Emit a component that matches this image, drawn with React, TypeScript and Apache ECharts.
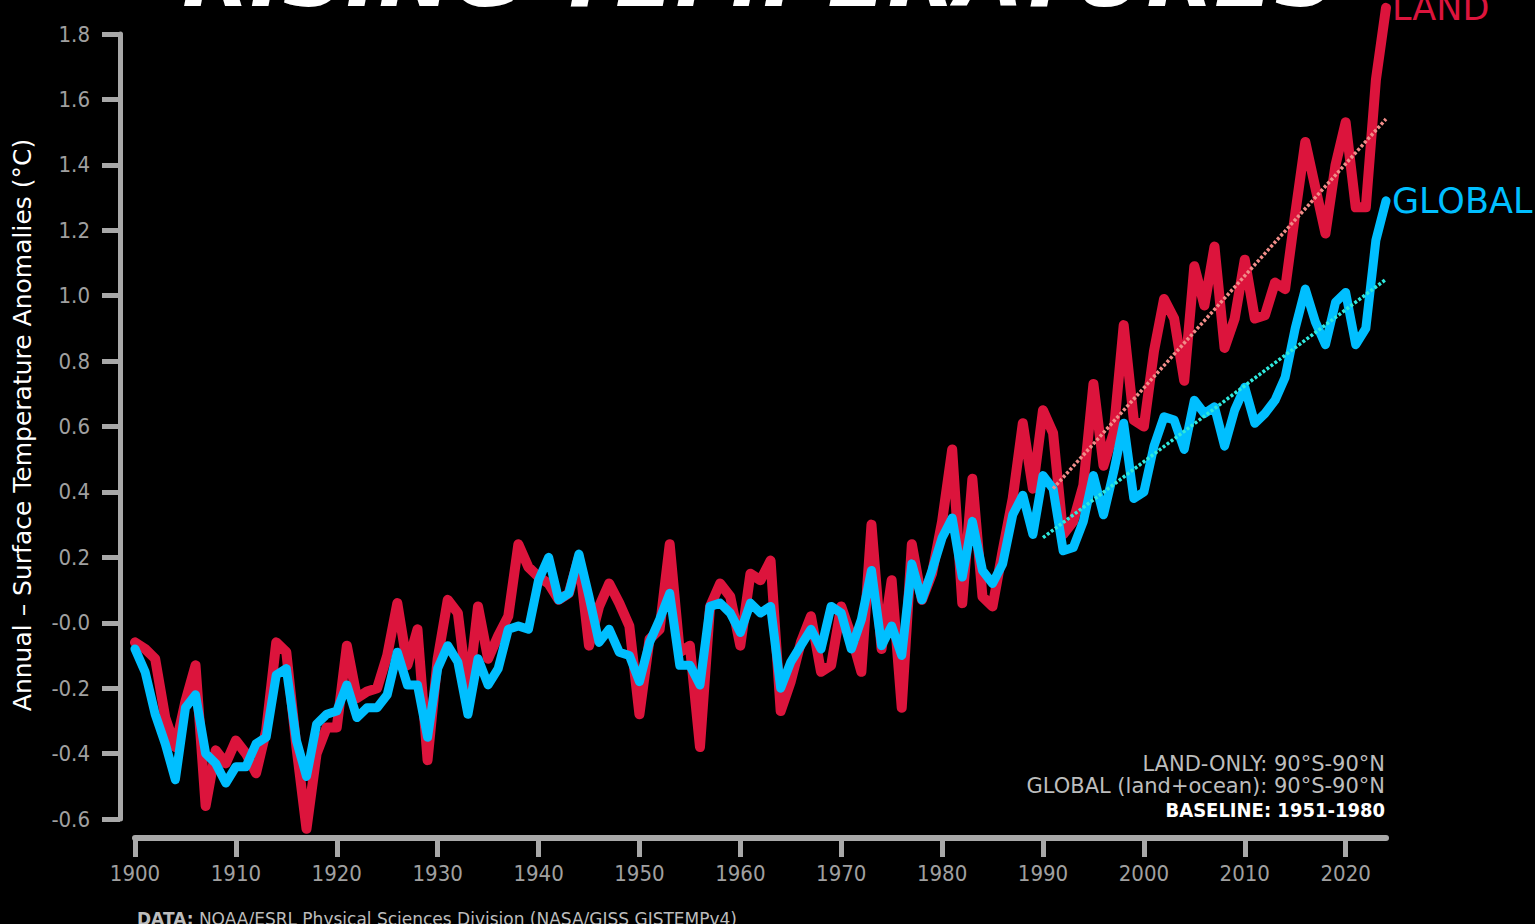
import React, { useEffect, useRef } from "react";
import * as echarts from "echarts";

const years = [
  1900, 1901, 1902, 1903, 1904, 1905, 1906, 1907, 1908, 1909,
  1910, 1911, 1912, 1913, 1914, 1915, 1916, 1917, 1918, 1919,
  1920, 1921, 1922, 1923, 1924, 1925, 1926, 1927, 1928, 1929,
  1930, 1931, 1932, 1933, 1934, 1935, 1936, 1937, 1938, 1939,
  1940, 1941, 1942, 1943, 1944, 1945, 1946, 1947, 1948, 1949,
  1950, 1951, 1952, 1953, 1954, 1955, 1956, 1957, 1958, 1959,
  1960, 1961, 1962, 1963, 1964, 1965, 1966, 1967, 1968, 1969,
  1970, 1971, 1972, 1973, 1974, 1975, 1976, 1977, 1978, 1979,
  1980, 1981, 1982, 1983, 1984, 1985, 1986, 1987, 1988, 1989,
  1990, 1991, 1992, 1993, 1994, 1995, 1996, 1997, 1998, 1999,
  2000, 2001, 2002, 2003, 2004, 2005, 2006, 2007, 2008, 2009,
  2010, 2011, 2012, 2013, 2014, 2015, 2016, 2017, 2018, 2019,
  2020, 2021, 2022, 2023, 2024,
];

const landAnomaly = [
  -0.06, -0.08, -0.11, -0.29, -0.38, -0.24, -0.13, -0.56, -0.39, -0.43,
  -0.36, -0.40, -0.46, -0.33, -0.06, -0.09, -0.38, -0.63, -0.40, -0.32,
  -0.32, -0.07, -0.23, -0.21, -0.20, -0.10, 0.06, -0.13, -0.02, -0.42,
  -0.11, 0.07, 0.03, -0.22, 0.05, -0.11, -0.04, 0.02, 0.24, 0.17,
  0.14, 0.12, 0.07, 0.09, 0.20, -0.07, 0.05, 0.12, 0.06, -0.01,
  -0.28, -0.05, -0.02, 0.24, -0.09, -0.07, -0.38, 0.05, 0.12, 0.08,
  -0.07, 0.15, 0.13, 0.19, -0.27, -0.18, -0.06, 0.02, -0.15, -0.13,
  0.05, -0.04, -0.15, 0.30, -0.08, 0.13, -0.26, 0.24, 0.07, 0.15,
  0.31, 0.53, 0.06, 0.44, 0.08, 0.05, 0.22, 0.38, 0.61, 0.41,
  0.65, 0.58, 0.27, 0.31, 0.42, 0.73, 0.48, 0.58, 0.91, 0.62,
  0.60, 0.83, 0.99, 0.93, 0.74, 1.09, 0.97, 1.15, 0.84, 0.93,
  1.11, 0.93, 0.94, 1.04, 1.02, 1.25, 1.47, 1.33, 1.19, 1.40,
  1.53, 1.27, 1.27, 1.66, 1.88,
];

const globalAnomaly = [
  -0.08, -0.15, -0.28, -0.37, -0.48, -0.26, -0.22, -0.40, -0.43, -0.49,
  -0.44, -0.44, -0.37, -0.35, -0.16, -0.14, -0.36, -0.47, -0.31, -0.28,
  -0.27, -0.19, -0.29, -0.26, -0.26, -0.22, -0.09, -0.19, -0.19, -0.35,
  -0.14, -0.07, -0.12, -0.28, -0.11, -0.19, -0.14, -0.02, -0.01, -0.02,
  0.13, 0.20, 0.07, 0.09, 0.21, 0.08, -0.06, -0.02, -0.09, -0.10,
  -0.18, -0.06, 0.01, 0.09, -0.13, -0.13, -0.19, 0.05, 0.06, 0.03,
  -0.03, 0.06, 0.03, 0.05, -0.20, -0.12, -0.07, -0.02, -0.08, 0.05,
  0.03, -0.08, 0.01, 0.16, -0.07, -0.01, -0.10, 0.18, 0.07, 0.16,
  0.26, 0.32, 0.14, 0.31, 0.16, 0.12, 0.18, 0.33, 0.39, 0.27,
  0.45, 0.41, 0.22, 0.23, 0.31, 0.45, 0.33, 0.46, 0.61, 0.38,
  0.40, 0.54, 0.63, 0.62, 0.53, 0.68, 0.64, 0.66, 0.54, 0.65,
  0.72, 0.61, 0.64, 0.68, 0.75, 0.90, 1.02, 0.92, 0.85, 0.98,
  1.01, 0.85, 0.90, 1.17, 1.29,
];

const landTrend = [
  [1991, 0.41],
  [2024, 1.54],
];
const globalTrend = [
  [1990, 0.26],
  [2024, 1.05],
];

const xTickYears = [1900, 1910, 1920, 1930, 1940, 1950, 1960, 1970, 1980, 1990, 2000, 2010, 2020];
const yTickValues = [-0.6, -0.4, -0.2, 0, 0.2, 0.4, 0.6, 0.8, 1.0, 1.2, 1.4, 1.6, 1.8];
const yTickLabels = ["-0.6", "-0.4", "-0.2", "-0.0", "0.2", "0.4", "0.6", "0.8", "1.0", "1.2", "1.4", "1.6", "1.8"];

const TITLE = "RISING TEMPERATURES";
const Y_NAME = "Annual \u2013 Surface Temperature Anomalies (\u00B0C)";
const NOTE_LAND = "LAND-ONLY: 90\u00B0S-90\u00B0N";
const NOTE_GLOBAL = "GLOBAL (land+ocean): 90\u00B0S-90\u00B0N";
const NOTE_BASE = "BASELINE: 1951-1980";
const SOURCE_BOLD = "DATA:";
const SOURCE_TEXT = " NOAA/ESRL Physical Sciences Division (NASA/GISS GISTEMPv4)";

const RED = "#dc143c";
const BLUE = "#00bfff";
const AXIS = "#a8a8a8";
const TICKFONT = '"DejaVu Sans Condensed", "DejaVu Sans", sans-serif';
const FONT = '"DejaVu Sans", sans-serif';

export default function App() {
  const ref = useRef<HTMLDivElement>(null);

  useEffect(() => {
    document.body.style.margin = "0";
    document.body.style.background = "#000";
    if (!ref.current) return;
    const chart = echarts.init(ref.current, null, { renderer: "svg" });

    const landData = years.map((y, i) => [y, landAnomaly[i]]);
    const globalData = years.map((y, i) => [y, globalAnomaly[i]]);

    chart.setOption({
      animation: false,
      backgroundColor: "#000",
      grid: { left: 135, right: 149, top: 34, bottom: 105 },
      xAxis: {
        type: "value",
        min: 1900,
        max: 2024,
        offset: 19,
        splitLine: { show: false },
        axisLine: { show: true, onZero: false, lineStyle: { color: AXIS, width: 6 } },
        axisTick: {
          show: true,
          length: 19,
          customValues: xTickYears,
          lineStyle: { color: AXIS, width: 5 },
        },
        axisLabel: {
          customValues: xTickYears,
          color: "#a0a0a0",
          fontSize: 22,
          fontFamily: TICKFONT,
          margin: 24,
          formatter: (v: number) => String(v),
        },
      },
      yAxis: {
        type: "value",
        min: -0.6,
        max: 1.8,
        interval: 0.2,
        offset: 15,
        splitLine: { show: false },
        axisLine: { show: true, lineStyle: { color: AXIS, width: 5 } },
        axisTick: { show: true, length: 18, lineStyle: { color: AXIS, width: 5 } },
        axisLabel: {
          color: "#a0a0a0",
          fontSize: 22,
          fontFamily: TICKFONT,
          margin: 30,
          formatter: (v: number) => {
            let best = 0;
            for (let i = 0; i < yTickValues.length; i++) {
              if (Math.abs(yTickValues[i] - v) < Math.abs(yTickValues[best] - v)) best = i;
            }
            return yTickLabels[best];
          },
        },
      },
      series: [
        {
          name: "LAND",
          type: "line",
          data: landData,
          showSymbol: false,
          clip: false,
          silent: true,
          z: 2,
          lineStyle: { color: RED, width: 10, join: "round", cap: "round" },
          endLabel: {
            show: true,
            formatter: "LAND",
            color: RED,
            fontSize: 35,
            fontFamily: FONT,
            distance: 6,
          },
        },
        {
          name: "GLOBAL",
          type: "line",
          data: globalData,
          showSymbol: false,
          clip: false,
          silent: true,
          z: 3,
          lineStyle: { color: BLUE, width: 9, join: "round", cap: "round" },
          endLabel: {
            show: true,
            formatter: "GLOBAL",
            color: BLUE,
            fontSize: 35,
            fontFamily: FONT,
            distance: 6,
          },
        },
        {
          name: "LAND trend",
          type: "line",
          data: landTrend,
          showSymbol: false,
          silent: true,
          z: 4,
          lineStyle: { color: "#f08c88", width: 3.5, type: [3, 2] },
        },
        {
          name: "GLOBAL trend",
          type: "line",
          data: globalTrend,
          showSymbol: false,
          silent: true,
          z: 4,
          lineStyle: { color: "#2ee8dc", width: 3.5, type: [3, 2] },
        },
      ],
      graphic: [
        {
          type: "text",
          x: 760,
          y: -25,
          silent: true,
          style: {
            text: TITLE,
            fill: "#fff",
            fontSize: 88,
            fontWeight: "bold",
            fontStyle: "italic",
            fontFamily: FONT,
            align: "center",
            verticalAlign: "middle",
          },
        },
        {
          type: "text",
          x: 22,
          y: 425,
          rotation: Math.PI / 2,
          silent: true,
          style: {
            text: Y_NAME,
            fill: "#fff",
            fontSize: 25,
            fontFamily: FONT,
            align: "center",
            verticalAlign: "middle",
          },
        },
        {
          type: "text",
          x: 1385,
          y: 764,
          silent: true,
          style: {
            text: NOTE_LAND,
            fill: "#bdbdbd",
            fontSize: 21,
            fontFamily: FONT,
            align: "right",
            verticalAlign: "middle",
          },
        },
        {
          type: "text",
          x: 1385,
          y: 786,
          silent: true,
          style: {
            text: NOTE_GLOBAL,
            fill: "#bdbdbd",
            fontSize: 21,
            fontFamily: FONT,
            align: "right",
            verticalAlign: "middle",
          },
        },
        {
          type: "text",
          x: 1385,
          y: 810,
          silent: true,
          style: {
            text: NOTE_BASE,
            fill: "#ffffff",
            fontSize: 20,
            fontWeight: "bold",
            fontFamily: TICKFONT,
            align: "right",
            verticalAlign: "middle",
          },
        },
        {
          type: "text",
          x: 137,
          y: 910,
          silent: true,
          style: {
            text: "{b|" + SOURCE_BOLD + "}{n|" + SOURCE_TEXT + "}",
            verticalAlign: "top",
            align: "left",
            rich: {
              b: { fill: "#bdbdbd", fontSize: 17, fontWeight: "bold", fontFamily: FONT },
              n: { fill: "#bdbdbd", fontSize: 17, fontFamily: FONT },
            },
          },
        },
      ],
    });

    return () => {
      chart.dispose();
    };
  }, []);

  return (
    <div
      ref={ref}
      style={{ position: "fixed", left: 0, top: 0, width: 1535, height: 924, background: "#000" }}
    />
  );
}
